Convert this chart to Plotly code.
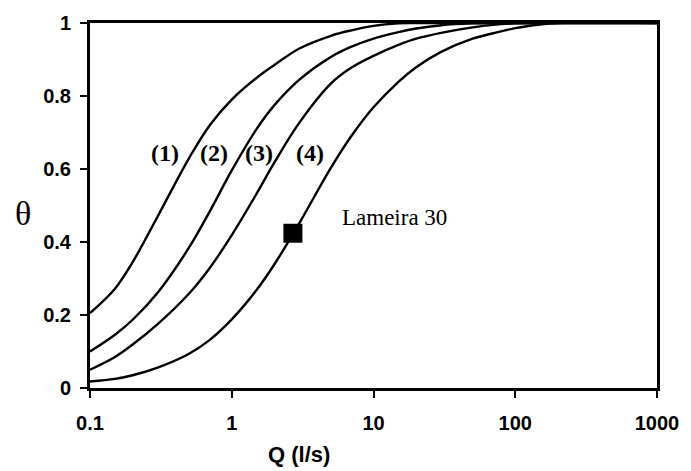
import math
import plotly.graph_objects as go

# Discharge grid (l/s) and read-off theta values for the four curves
q = [0.1, 0.15, 0.2, 0.3, 0.5, 0.7, 1, 1.5, 2, 3, 5, 7, 10, 15, 20, 30, 50, 70, 100, 150, 200, 1000]
theta_1 = [0.205, 0.272, 0.345, 0.47, 0.63, 0.72, 0.79, 0.85, 0.885, 0.93, 0.965, 0.98, 0.992, 0.999, 1, 1, 1, 1, 1, 1, 1, 1]
theta_2 = [0.10, 0.146, 0.187, 0.261, 0.385, 0.484, 0.596, 0.71, 0.775, 0.845, 0.907, 0.935, 0.957, 0.975, 0.985, 0.994, 0.999, 1, 1, 1, 1, 1]
theta_3 = [0.05, 0.085, 0.119, 0.175, 0.259, 0.329, 0.419, 0.533, 0.618, 0.727, 0.834, 0.878, 0.91, 0.94, 0.957, 0.973, 0.988, 0.995, 0.999, 1, 1, 1]
theta_4 = [0.018, 0.025, 0.035, 0.056, 0.094, 0.132, 0.188, 0.269, 0.339, 0.452, 0.603, 0.691, 0.769, 0.839, 0.879, 0.921, 0.957, 0.972, 0.986, 0.996, 1, 1]
curves = [theta_1, theta_2, theta_3, theta_4]
curve_labels = ["(1)", "(2)", "(3)", "(4)"]
label_q = [0.336, 0.745, 1.55, 3.55]
label_theta = [0.643, 0.643, 0.643, 0.643]

site_q = [2.7]
site_theta = [0.424]
site_name = "Lameira 30"

x_ticks = [0.1, 1, 10, 100, 1000]
x_ticktext = ["0.1", "1", "10", "100", "1000"]
y_ticks = [0, 0.2, 0.4, 0.6, 0.8, 1]
y_ticktext = ["0", "0.2", "0.4", "0.6", "0.8", "1"]

W, H = 691, 471
L, R, T, B = 90, 26, 17, 83

fig = go.Figure()
for th in curves:
    fig.add_trace(go.Scatter(x=q, y=th, mode="lines", line=dict(color="black", width=2.4, shape="spline", smoothing=1.0),
                             showlegend=False, hoverinfo="skip"))
fig.add_trace(go.Scatter(x=site_q, y=site_theta, mode="markers",
                         marker=dict(symbol="square", size=19, color="black"), showlegend=False))

for lab, lq, lt in zip(curve_labels, label_q, label_theta):
    fig.add_annotation(x=math.log10(lq), y=lt, xref="x", yref="y", text="<b>" + lab + "</b>", showarrow=False,
                       font=dict(family="Liberation Serif", size=24, color="black"))
fig.add_annotation(x=0.537, y=0.468, xref="x domain", yref="y domain", text=site_name, showarrow=False,
                   xanchor="center", yanchor="middle", font=dict(family="Liberation Serif", size=23, color="black"))


def px_to_paper(px, py):
    return (px - L) / (W - L - R), 1 - (py - T) / (H - T - B)


tx, ty = px_to_paper(22, 211)
fig.add_annotation(x=tx, y=ty, xref="paper", yref="paper", text="θ", showarrow=False,
                   xanchor="center", yanchor="middle",
                   font=dict(family="Liberation Serif", size=34, color="black"))
qx, qy = px_to_paper(302, 456)
fig.add_annotation(x=qx, y=qy, xref="paper", yref="paper", text="<b>Q (l/s)</b>", showarrow=False,
                   xanchor="center", yanchor="middle",
                   font=dict(family="Liberation Sans", size=22, color="black"))

tickfont = dict(family="Liberation Sans", size=20, color="black", weight="bold")
fig.update_layout(
    width=W, height=H,
    margin=dict(l=L, r=R, t=T, b=B),
    plot_bgcolor="white", paper_bgcolor="white",
    xaxis=dict(type="log", range=[-1, 3], tickvals=x_ticks, ticktext=x_ticktext,
               showgrid=False, zeroline=False, showline=True, linecolor="black", linewidth=3, mirror=True,
               ticks="outside", ticklen=7, tickwidth=2, tickcolor="black", ticklabelstandoff=8,
               tickfont=tickfont),
    yaxis=dict(range=[0, 1], tickvals=y_ticks, ticktext=y_ticktext,
               showgrid=False, zeroline=False, showline=True, linecolor="black", linewidth=3, mirror=True,
               ticks="outside", ticklen=7, tickwidth=2, tickcolor="black", ticklabelstandoff=5,
               tickfont=tickfont),
)
fig.write_html("out.html")
